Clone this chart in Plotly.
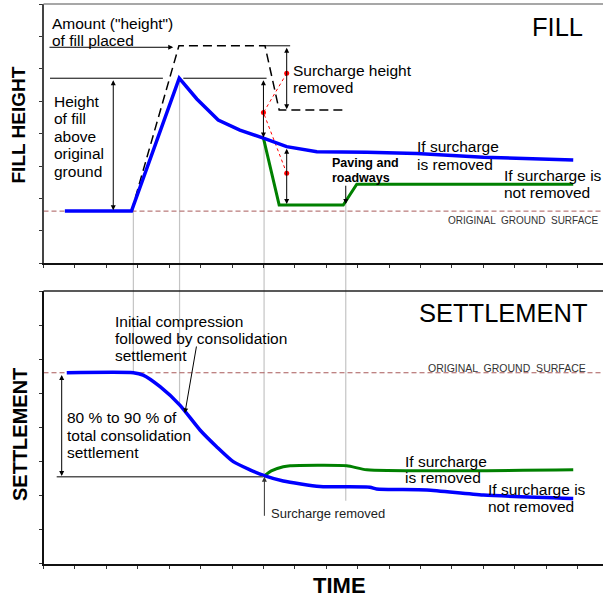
import plotly.graph_objects as go
import numpy as np

W, H = 603, 598

# ---------------- data (x: one unit per time tick, y: one unit per height tick) -------------
fill_time = [0.68, 2.80, 4.32, 4.88, 5.56, 6.25, 7.00, 7.74, 8.70, 10.29, 11.88, 14.00, 16.86]
fill_kept = [1.61, 1.61, 5.71, 5.07, 4.42, 4.11, 3.86, 3.60, 3.44, 3.43, 3.39, 3.27, 3.19]

fill_removed_time = [7.00, 7.50, 9.54, 9.97, 16.86]
fill_removed = [3.86, 1.80, 1.80, 2.44, 2.44]

placed_time = [2.80, 4.31, 7.05, 7.50, 9.60]
placed_height = [1.61, 6.71, 6.71, 4.73, 4.73]

guide_time = [7.74, 7.00, 7.74]
guide_height = [5.86, 4.65, 2.78]

ground_fill = 1.61
ground_settle = 5.60

settle_time = [0.74, 2.86, 3.17, 3.71, 4.34, 4.98, 5.51, 6.04, 6.57, 7.05, 7.63, 8.80,
               10.39, 10.60, 12.20, 14.00, 16.86]
settle_kept = [5.60, 5.60, 5.53, 5.19, 4.65, 3.92, 3.43, 2.99, 2.75, 2.57, 2.42, 2.26,
               2.24, 2.19, 2.16, 2.01, 1.91]

settle_removed_time = [7.00, 7.25, 7.63, 7.85, 9.65, 10.29, 16.86]
settle_removed = [2.55, 2.72, 2.84, 2.87, 2.87, 2.75, 2.75]

event_time = [2.86, 4.33, 7.02, 9.62]

# ---------------- layout geometry ----------------
X_LEFT = 43.5
X_RANGE = [0, (W - X_LEFT) / 31.42]
Y_RANGE = [0, 8]
DOM_X = [X_LEFT / W, 1.0]
DOM_TOP = [1 - 263.3 / H, 1 - 4 / H]
DOM_BOT = [1 - 563.5 / H, 1 - 291 / H]

FONT = "Liberation Sans, Arial, sans-serif"
BLUE = "#0000ff"
GREEN = "#008000"
GROUND = "#a85a5a"
GRAY = "#c4c4c4"


def paper_y(v, dom):
    return dom[0] + (v - Y_RANGE[0]) / (Y_RANGE[1] - Y_RANGE[0]) * (dom[1] - dom[0])


fig = go.Figure()

# top panel
fig.add_trace(go.Scatter(x=[0, X_RANGE[1]], y=[ground_fill, ground_fill], mode="lines",
                         line=dict(color=GROUND, width=1, dash="5px,3px"), xaxis="x", yaxis="y"))
fig.add_trace(go.Scatter(x=placed_time, y=placed_height, mode="lines",
                         line=dict(color="black", width=1.5, dash="9px,5px"), xaxis="x", yaxis="y"))
fig.add_trace(go.Scatter(x=guide_time, y=guide_height, mode="lines+markers",
                         line=dict(color="red", width=1, dash="dot"),
                         marker=dict(color="red", size=5), xaxis="x", yaxis="y"))
fig.add_trace(go.Scatter(x=fill_removed_time, y=fill_removed, mode="lines",
                         line=dict(color=GREEN, width=3), xaxis="x", yaxis="y"))
fig.add_trace(go.Scatter(x=fill_time, y=fill_kept, mode="lines",
                         line=dict(color=BLUE, width=3.5), xaxis="x", yaxis="y"))

# bottom panel
fig.add_trace(go.Scatter(x=[0, X_RANGE[1]], y=[ground_settle, ground_settle], mode="lines",
                         line=dict(color=GROUND, width=1, dash="5px,3px"), xaxis="x2", yaxis="y2"))
fig.add_trace(go.Scatter(x=settle_removed_time, y=settle_removed, mode="lines",
                         line=dict(color=GREEN, width=3, shape="spline", smoothing=0.6),
                         xaxis="x2", yaxis="y2"))
fig.add_trace(go.Scatter(x=settle_time, y=settle_kept, mode="lines",
                         line=dict(color=BLUE, width=3.5, shape="spline", smoothing=0.6),
                         xaxis="x2", yaxis="y2"))

shapes = []
annotations = []

# gray connectors spanning both panels
top_ends = [float(np.interp(t, fill_time, fill_kept)) for t in event_time[:3]]
top_ends.append(float(np.interp(event_time[3], fill_removed_time, fill_removed)))
bot_ends = [float(np.interp(t, settle_time, settle_kept)) for t in event_time[:3]]
bot_ends.append(1.84)
for t, a, b in zip(event_time, top_ends, bot_ends):
    shapes.append(dict(type="line", xref="x", yref="paper", x0=t, x1=t,
                       y0=paper_y(a, DOM_TOP), y1=paper_y(b, DOM_BOT),
                       line=dict(color=GRAY, width=1.2), layer="below"))

# panel top borders
shapes.append(dict(type="line", xref="paper", yref="paper", x0=DOM_X[0], x1=1,
                   y0=DOM_TOP[1], y1=DOM_TOP[1], line=dict(color="#8a8a8a", width=1.5)))
shapes.append(dict(type="line", xref="paper", yref="paper", x0=DOM_X[0], x1=1,
                   y0=DOM_BOT[1], y1=DOM_BOT[1], line=dict(color="#222222", width=1.5)))


def hline(x0, x1, y, ax="", color="black", width=1):
    shapes.append(dict(type="line", xref="x" + ax, yref="y" + ax, x0=x0, x1=x1, y0=y, y1=y,
                       line=dict(color=color, width=width)))


def arrow(x, y, tx, ty, ax="", double=False, color="black"):
    d = dict(x=x, y=y, ax=tx, ay=ty, xref="x" + ax, yref="y" + ax, axref="x" + ax,
             ayref="y" + ax, text="", showarrow=True, arrowhead=2, arrowsize=1,
             arrowwidth=1, arrowcolor=color)
    if double:
        d.update(arrowside="end+start", startarrowhead=2, startarrowsize=1)
    annotations.append(d)


# top panel guides
hline(0.207, 3.80, 5.71)
arrow(2.22, 1.64, 2.22, 5.69, double=True)
arrow(4.13, 6.665, 0.143, 6.665)
hline(4.45, 7.10, 5.71)
arrow(7.00, 3.88, 7.00, 5.69, double=True)
hline(7.05, 7.85, 6.71)
arrow(7.74, 4.75, 7.74, 6.70, double=True)
arrow(7.74, 1.83, 7.74, 3.58, double=True)
arrow(9.62, 1.83, 9.62, 2.44)

# bottom panel guides
hline(0.42, 6.99, 2.548, ax="2", color="#555555", width=1.5)
arrow(0.579, 2.57, 0.579, 5.58, ax="2", double=True)
arrow(4.50, 4.41, 4.876, 6.415, ax="2")
arrow(7.03, 2.55, 7.03, 1.356, ax="2", color="#333333")


def text_block(lines, x_px, y_px, pitch=17.5, size=15.5, bold=False, anchor="left",
               color="#000000", family=FONT, angle=0):
    for i, line in enumerate(lines):
        txt = "<b>" + line + "</b>" if bold else line
        annotations.append(dict(xref="paper", yref="paper", x=x_px / W,
                                y=1 - (y_px + i * pitch) / H, text=txt, showarrow=False,
                                xanchor=anchor, yanchor="middle", textangle=angle,
                                font=dict(family=family, size=size, color=color)))


ogs = "ORIGINAL \u00a0GROUND \u00a0SURFACE"

# top panel text
text_block(['Amount ("height")', "of fill placed"], 50, 23.3, pitch=17)
text_block(["Height", "of fill", "above", "original", "ground"], 52, 101, pitch=17.6)
text_block(["Surcharge height", "removed"], 291, 70, pitch=17.3)
text_block(["Paving and", "roadways"], 330, 162.7, pitch=15, size=12.5, bold=True)
text_block(["If surcharge", "is removed"], 415, 146.7, pitch=17.3)
text_block(["If surcharge is", "not removed"], 502, 175, pitch=17.3)
text_block(["FILL"], 530, 26.7, size=25.5)
text_block([ogs], 446, 221, size=10, color="#333333")
text_block(["FILL HEIGHT"], 18.5, 125, size=19, bold=True, anchor="center", angle=-90)

# bottom panel text
text_block(["Initial compression", "followed by consolidation", "settlement"], 112.5, 321,
           pitch=17)
text_block(["80 % to 90 % of", "total consolidation", "settlement"], 65, 417.7, pitch=17.3)
text_block(["Surcharge removed"], 268.5, 513.3, size=13, color="#222222")
text_block(["If surcharge", "is removed"], 403, 461, pitch=16.7)
text_block(["If surcharge is", "not removed"], 486, 489, pitch=17)
text_block(["SETTLEMENT"], 417, 313.3, size=25.5)
text_block([ogs], 426, 367.5, size=10.5, color="#333333")
text_block(["SETTLEMENT"], 20, 435, size=20, bold=True, anchor="center", angle=-90)
text_block(["TIME"], 339.5, 585, size=22, bold=True, anchor="center")

axis_common = dict(range=X_RANGE, domain=DOM_X, showgrid=False, zeroline=False,
                   showticklabels=False, ticks="outside", ticklen=3, tickwidth=1,
                   tickcolor="#333333", dtick=1, tick0=0, showline=True)
yaxis_common = dict(range=Y_RANGE, showgrid=False, zeroline=False, showticklabels=False,
                    ticks="outside", ticklen=3, tickwidth=1, tickcolor="#333333",
                    dtick=1, tick0=0, showline=True)

fig.update_layout(
    width=W, height=H,
    margin=dict(l=0, r=0, t=0, b=0),
    paper_bgcolor="white", plot_bgcolor="white",
    showlegend=False,
    xaxis=dict(**axis_common, anchor="y", linecolor="#111111", linewidth=2),
    yaxis=dict(**yaxis_common, domain=DOM_TOP, anchor="x", linecolor="#444444", linewidth=2),
    xaxis2=dict(**axis_common, anchor="y2", linecolor="#111111", linewidth=2),
    yaxis2=dict(**yaxis_common, domain=DOM_BOT, anchor="x2", linecolor="#111111",
                linewidth=1.5),
    shapes=shapes,
    annotations=annotations,
)

fig.write_html("out.html", config={"displayModeBar": False},
               post_script="document.body.style.margin='0';document.body.style.overflow='hidden';")
